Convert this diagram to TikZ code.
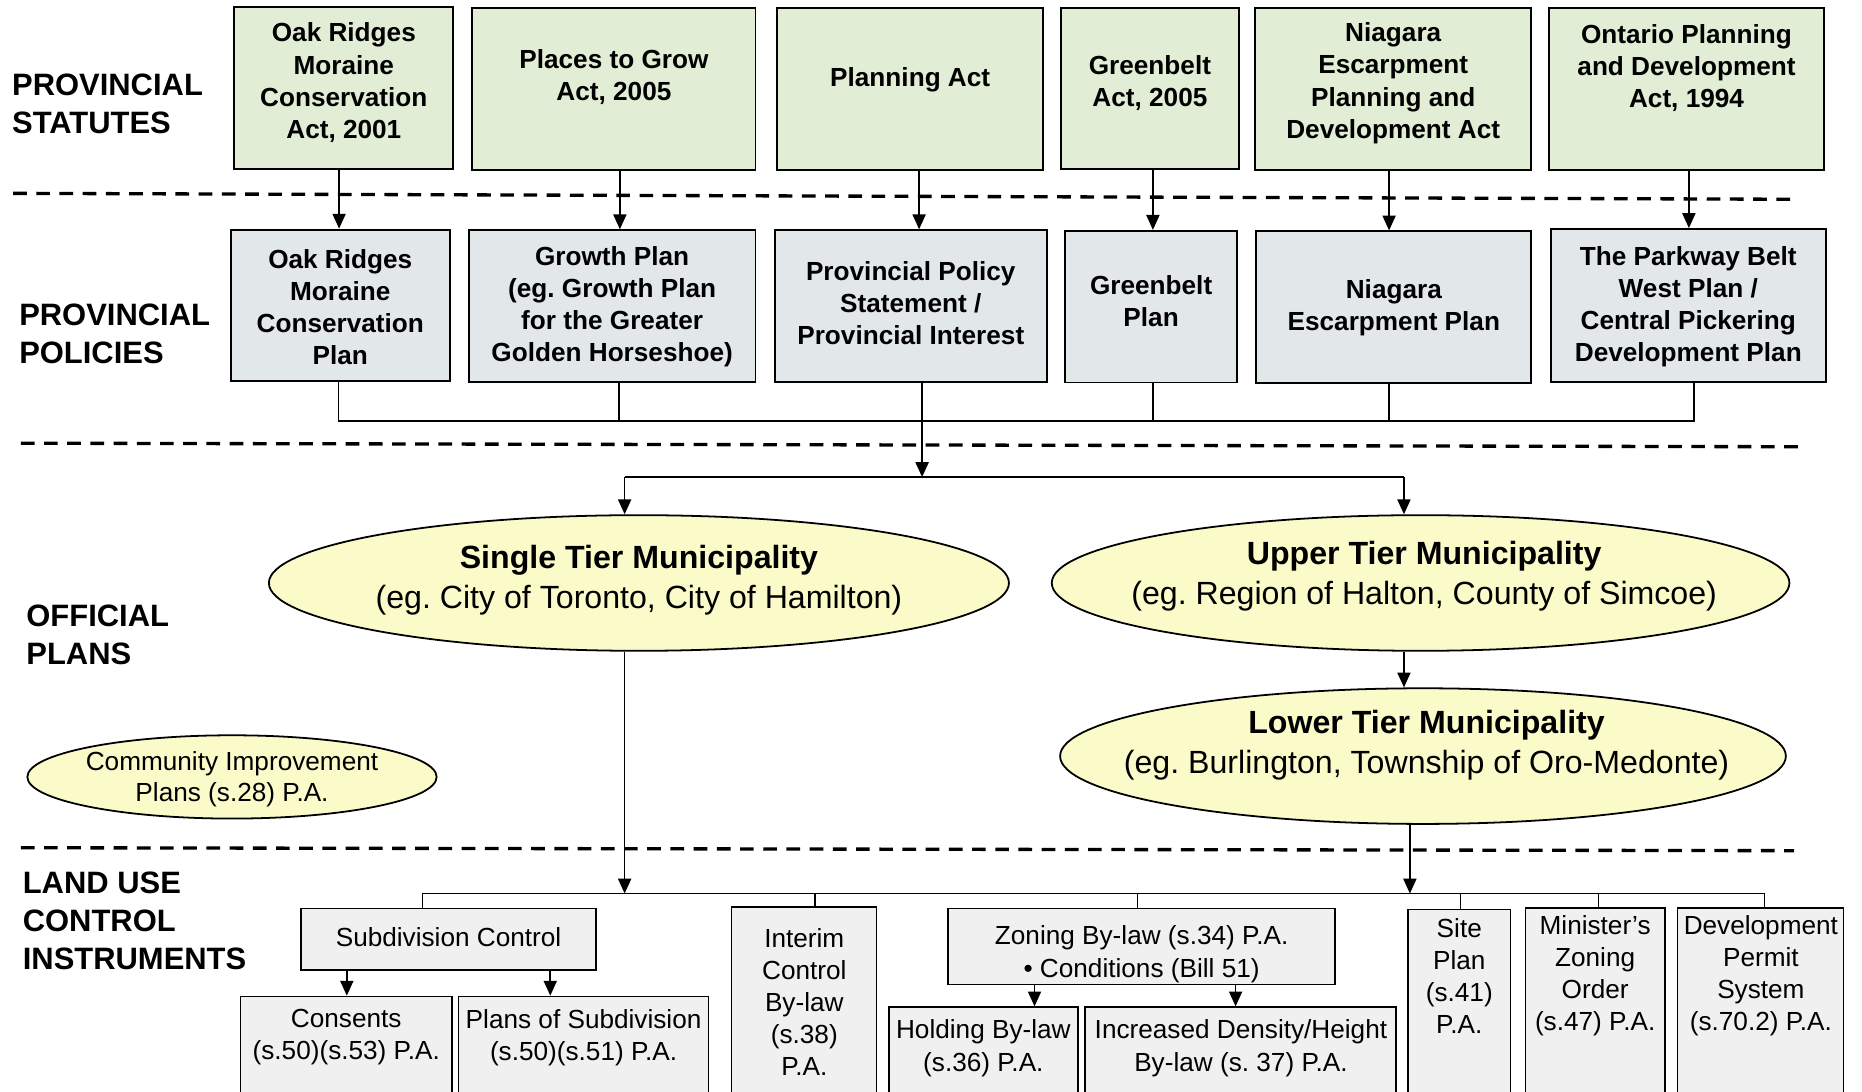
\documentclass[tikz,border=0pt]{standalone}
\usepackage{fontspec}
\setmainfont{Liberation Sans}
\usetikzlibrary{arrows.meta,fit,shapes.geometric}
\definecolor{grn}{RGB}{225,237,213}
\definecolor{gry}{RGB}{226,231,234}
\definecolor{ylw}{RGB}{250,251,200}
\definecolor{lgr}{RGB}{240,240,240}
\frenchspacing
\tikzset{
 box/.style={draw=black, line width=1.6pt, inner sep=0pt},
 gA/.style={box, fill=grn},
 gP/.style={box, fill=gry},
 lbox/.style={draw=black, line width=1.3pt, inner sep=0pt, fill=lgr},
 oval/.style={ellipse, draw=black, line width=1.5pt, fill=ylw, inner sep=0pt},
 hdr/.style={font=\fontsize{26}{32}\selectfont\bfseries, align=left, anchor=west, inner sep=0pt},
 tb/.style={font=\fontsize{22}{27}\selectfont\bfseries, align=center, inner sep=0pt},
 tr/.style={font=\fontsize{22}{27}\selectfont, align=center, inner sep=0pt},
 te/.style={font=\fontsize{27}{33.5}\selectfont, align=center, inner sep=0pt},
 conn/.style={line width=1.4pt},
 arr/.style={conn, -{Triangle[length=12.5pt,width=11pt]}},
 sep/.style={line width=2.8pt, dash pattern=on 11.5pt off 8pt},
}
\begin{document}
\begin{tikzpicture}[x=1pt,y=-1pt]
\path[use as bounding box, fill=white] (0,0) rectangle (1565,917);
\clip (0,0) rectangle (1565,917);

% section labels
\node[hdr] (h1) at (10,87) {PROVINCIAL\\STATUTES};
\node[hdr] (h2) at (16,280.5) {PROVINCIAL\\POLICIES};
\node[hdr] (h3) at (22,533.5) {OFFICIAL\\PLANS};
\node[hdr] (h4) at (19,774) {LAND USE\\CONTROL\\INSTRUMENTS};

% separators
\draw[sep] (11,162.5) -- (1511,167.5);
\draw[sep] (17.5,372.5) -- (1516,375.5);
\draw[sep] (17.5,712.5) -- (1508,715);

% row 1: statutes
\node[gA, fit={(197,6)(381,142)}] (oakA) {};
\node[gA, fit={(397,6.5)(635,143)}] (placesA) {};
\node[gA, fit={(653,7)(877,143)}] (planA) {};
\node[gA, fit={(892,6.5)(1041,142)}] (greenA) {};
\node[gA, fit={(1055,7)(1287,143)}] (niagA) {};
\node[gA, fit={(1302,7)(1533,143)}] (ontA) {};
\node[tb] (oakAt) at (289,69.5) {Oak Ridges\\Moraine\\Conservation\\Act, 2001};
\node[tb] (placesAt) at (516,64.5) {Places to Grow\\Act, 2005};
\node[tb] (planAt) at (765,67) {Planning Act};
\node[tb] (greenAt) at (966.5,70) {Greenbelt\\Act, 2005};
\node[tb] (niagAt) at (1171,70) {Niagara\\Escarpment\\Planning and\\Development Act};
\node[tb] (ontAt) at (1417.5,57) {Ontario Planning\\and Development\\Act, 1994};

% row 2: policies
\node[gP, fit={(194,193)(378,320.5)}] (oakP) {};
\node[gP, fit={(394,193.5)(635,321)}] (growthP) {};
\node[gP, fit={(651,193.5)(880,321)}] (ppsP) {};
\node[gP, fit={(895,194)(1040,321.5)}] (greenP) {};
\node[gP, fit={(1056,194.5)(1287,322)}] (niagP) {};
\node[gP, fit={(1303.5,192.5)(1534.5,321)}] (parkP) {};
\node[tb] (oakPt) at (286,258) {Oak Ridges\\Moraine\\Conservation\\Plan};
\node[tb] (growthPt) at (514.5,258) {Growth Plan\\(eg. Growth Plan\\for the Greater\\Golden Horseshoe)};
\node[tb] (ppsPt) at (765.5,255) {Provincial Policy\\Statement /\\Provincial Interest};
\node[tb] (greenPt) at (967.5,253) {Greenbelt\\Plan};
\node[tb] (niagPt) at (1171.5,258.5) {Niagara\\Escarpment Plan};
\node[tb] (parkPt) at (1419,258) {The Parkway Belt\\West Plan /\\Central Pickering\\Development Plan};

% statute -> policy arrows
\coordinate (a1) at (285,0);
\coordinate (a2) at (521,0);
\coordinate (a3) at (772.5,0);
\coordinate (a4) at (969,0);
\coordinate (a5) at (1167.5,0);
\coordinate (a6) at (1419.5,0);
\draw[arr] (oakA.south -| a1) -- (oakP.north -| a1);
\draw[arr] (placesA.south -| a2) -- (growthP.north -| a2);
\draw[arr] (planA.south -| a3) -- (ppsP.north -| a3);
\draw[arr] (greenA.south -| a4) -- (greenP.north -| a4);
\draw[arr] (niagA.south -| a5) -- (niagP.north -| a5);
\draw[arr] (ontA.south -| a6) -- (parkP.north -| a6);

% policies bus
\coordinate (b1L) at (284.5,353.5);
\coordinate (b1R) at (1424,353.5);
\coordinate (v2) at (520,353.5);
\coordinate (v3) at (775,353.5);
\coordinate (v4) at (969,353.5);
\coordinate (v5) at (1167.5,353.5);
\draw[conn, line width=1.6pt] (oakP.south -| b1L) -- (b1L) -- (b1R) -- (parkP.south -| b1R);
\draw[conn] (growthP.south -| v2) -- (v2);
\draw[conn] (greenP.south -| v4) -- (v4);
\draw[conn] (niagP.south -| v5) -- (v5);
\coordinate (j1) at (775,401);
\draw[arr] (ppsP.south -| v3) -- (j1);

% official plans
\node[oval, minimum width=622pt, minimum height=114pt] (single) at (537,490) {};
\node[oval, minimum width=620pt, minimum height=114pt] (upper) at (1194,490) {};
\node[oval, minimum width=610pt, minimum height=114pt] (lower) at (1196,635.5) {};
\node[oval, minimum width=344pt, minimum height=70pt] (cip) at (195,653) {};
\node[te] (singlet) at (537,488) {\bfseries Single Tier Municipality\\(eg. City of Toronto, City of Hamilton)};
\node[te] (uppert) at (1197,484) {\bfseries Upper Tier Municipality\\(eg. Region of Halton, County of Simcoe)};
\node[te] (lowert) at (1199,626) {\bfseries Lower Tier Municipality\\(eg. Burlington, Township of Oro-Medonte)};
\node[tr, font=\fontsize{22}{26.5}\selectfont] (cipt) at (195,655) {Community Improvement\\Plans (s.28) P.A.};

\coordinate (jL) at (525,401);
\coordinate (jR) at (1180,401);
\draw[conn] (jL) -- (jR);
\draw[arr] (jL) -- (single.north -| jL);
\draw[arr] (jR) -- (upper.north -| jR);
\draw[arr] (upper.south -| jR) -- (lower.north -| jR);

% land use control instruments
\node[lbox, fit={(253,763.5)(501,815.5)}] (subC) {};
\node[lbox, fit={(202,837.5)(380,930)}] (cons) {};
\node[lbox, fit={(385.5,837.5)(595.5,930)}] (plansS) {};
\node[lbox, fit={(615,762.5)(736.5,930)}] (interim) {};
\node[lbox, fit={(797,763.5)(1122,827.5)}] (zoning) {};
\node[lbox, fit={(747,846.5)(906,930)}] (holding) {};
\node[lbox, fit={(912,846.5)(1173.5,930)}] (incr) {};
\node[lbox, fit={(1183.5,764.5)(1269.5,930)}] (site) {};
\node[lbox, fit={(1282,763)(1399.5,930)}] (minister) {};
\node[lbox, fit={(1410,763)(1549.5,930)}] (devperm) {};

\node[tr] (subCt) at (377,788) {Subdivision Control};
\node[tr] (const) at (291,872) {Consents\\(s.50)(s.53) P.A.};
\node[tr] (plansSt) at (490.5,872) {Plans of Subdivision\\(s.50)(s.51) P.A.};
\node[tr] (interimt) at (676,842) {Interim\\Control\\By-law\\(s.38)\\P.A.};
\node[tr] (zoningt) at (959.5,802) {Zoning By-law (s.34) P.A.\\\textbullet\ Conditions (Bill 51)};
\node[tr] (holdingt) at (826.5,881) {Holding By-law\\(s.36) P.A.};
\node[tr] (incrt) at (1043,881) {Increased Density/Height\\By-law (s. 37) P.A.};
\node[tr] (sitet) at (1226.5,820.5) {Site\\Plan\\(s.41)\\P.A.};
\node[tr] (ministert) at (1340.7,820) {Minister’s\\Zoning\\Order\\(s.47) P.A.};
\node[tr] (devpermt) at (1480,820) {Development\\Permit\\System\\(s.70.2) P.A.};

\coordinate (c1) at (525,751);
\coordinate (c2) at (1185,751);
\draw[arr] (single.south -| c1) -- (c1);
\draw[arr] (lower.south -| c2) -- (c2);

\coordinate (b2L) at (355,751);
\coordinate (b2R) at (1483,751);
\coordinate (u2) at (685,751);
\coordinate (u3) at (956,751);
\coordinate (u4) at (1227.5,751);
\coordinate (u5) at (1343.5,751);
\draw[conn] (subC.north -| b2L) -- (b2L) -- (b2R) -- (devperm.north -| b2R);
\draw[conn] (interim.north -| u2) -- (u2);
\draw[conn] (zoning.north -| u3) -- (u3);
\draw[conn] (site.north -| u4) -- (u4);
\draw[conn] (minister.north -| u5) -- (u5);

\coordinate (d1) at (291.5,0);
\coordinate (d2) at (462.5,0);
\coordinate (d3) at (869.5,0);
\coordinate (d4) at (1038.5,0);
\draw[arr] (subC.south -| d1) -- (cons.north -| d1);
\draw[arr] (subC.south -| d2) -- (plansS.north -| d2);
\draw[arr] (zoning.south -| d3) -- (holding.north -| d3);
\draw[arr] (zoning.south -| d4) -- (incr.north -| d4);
\end{tikzpicture}
\end{document}
